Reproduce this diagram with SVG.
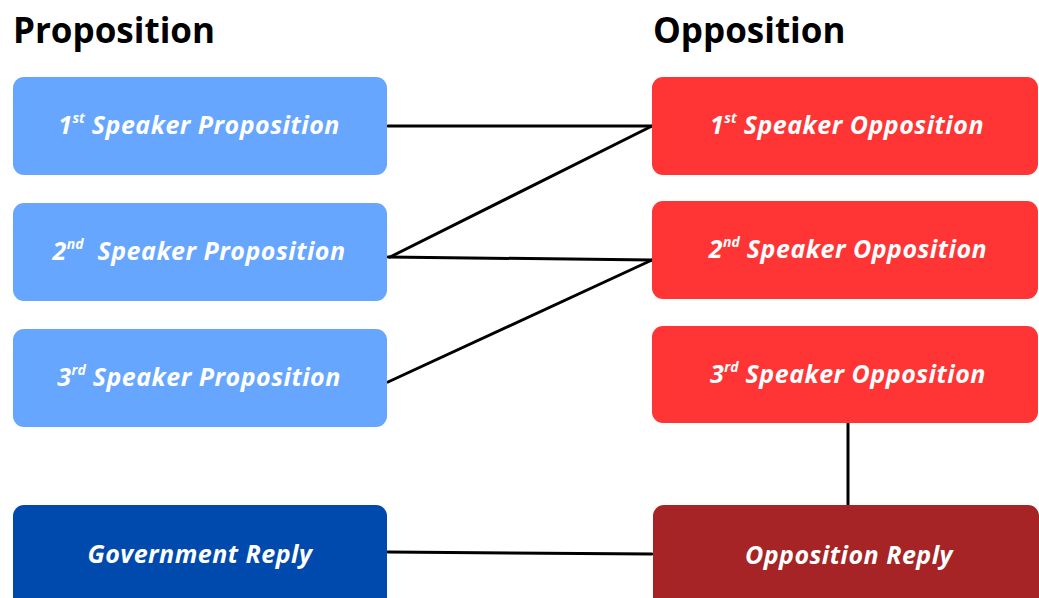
<svg xmlns="http://www.w3.org/2000/svg" width="1039" height="598" viewBox="0 0 1039 598">
<style>
.h{font-family:"Open Sans",sans-serif;font-weight:700;font-size:35px;fill:#000}
.t{font-family:"Open Sans",sans-serif;font-weight:700;font-style:italic;font-size:25px;letter-spacing:0.5px;fill:#fff;text-anchor:middle}
.s{font-size:14px;letter-spacing:0}
.lb{fill:#66A6FF}
.rd{fill:#FF3434}
.db{fill:#004AAD}
.dr{fill:#A62426}
.c{stroke:#000;stroke-width:3;fill:none;stroke-linecap:round}
</style>
<rect width="1039" height="598" fill="#fff"/>
<text class="h" x="13" y="43">Proposition</text>
<text class="h" x="653" y="43">Opposition</text>
<g id="connectors">
<line class="c" x1="388" y1="126" x2="652" y2="126"/>
<line class="c" x1="652" y1="126" x2="390" y2="257"/>
<line class="c" x1="388" y1="257" x2="652" y2="260"/>
<line class="c" x1="652" y1="260" x2="388" y2="382"/>
<line class="c" x1="848" y1="423" x2="848" y2="505"/>
<line class="c" x1="388" y1="552" x2="652" y2="554"/>
</g>
<g id="p1"><rect class="lb" x="13" y="77" width="374" height="98" rx="11"/><text class="t" x="199" y="134">1<tspan class="s" dy="-11">st</tspan><tspan dy="11"> Speaker Proposition</tspan></text></g>
<g id="p2"><rect class="lb" x="13" y="203" width="374" height="98" rx="11"/><text class="t" x="199" y="260">2<tspan class="s" dy="-11">nd</tspan><tspan dy="11" xml:space="preserve">  Speaker Proposition</tspan></text></g>
<g id="p3"><rect class="lb" x="13" y="329" width="374" height="98" rx="11"/><text class="t" x="199" y="386">3<tspan class="s" dy="-11">rd</tspan><tspan dy="11"> Speaker Proposition</tspan></text></g>
<g id="gr"><rect class="db" x="13" y="505" width="374" height="110" rx="11"/><text class="t" x="200" y="563">Government Reply</text></g>
<g id="o1"><rect class="rd" x="652" y="77" width="386" height="98" rx="11"/><text class="t" x="847" y="134">1<tspan class="s" dy="-11">st</tspan><tspan dy="11"> Speaker Opposition</tspan></text></g>
<g id="o2"><rect class="rd" x="652" y="201" width="386" height="98" rx="11"/><text class="t" x="848" y="258">2<tspan class="s" dy="-11">nd</tspan><tspan dy="11"> Speaker Opposition</tspan></text></g>
<g id="o3"><rect class="rd" x="652" y="326" width="386" height="97" rx="11"/><text class="t" x="848" y="383">3<tspan class="s" dy="-11">rd</tspan><tspan dy="11"> Speaker Opposition</tspan></text></g>
<g id="or"><rect class="dr" x="653" y="505" width="386" height="110" rx="11"/><text class="t" x="849" y="564">Opposition Reply</text></g>
</svg>
